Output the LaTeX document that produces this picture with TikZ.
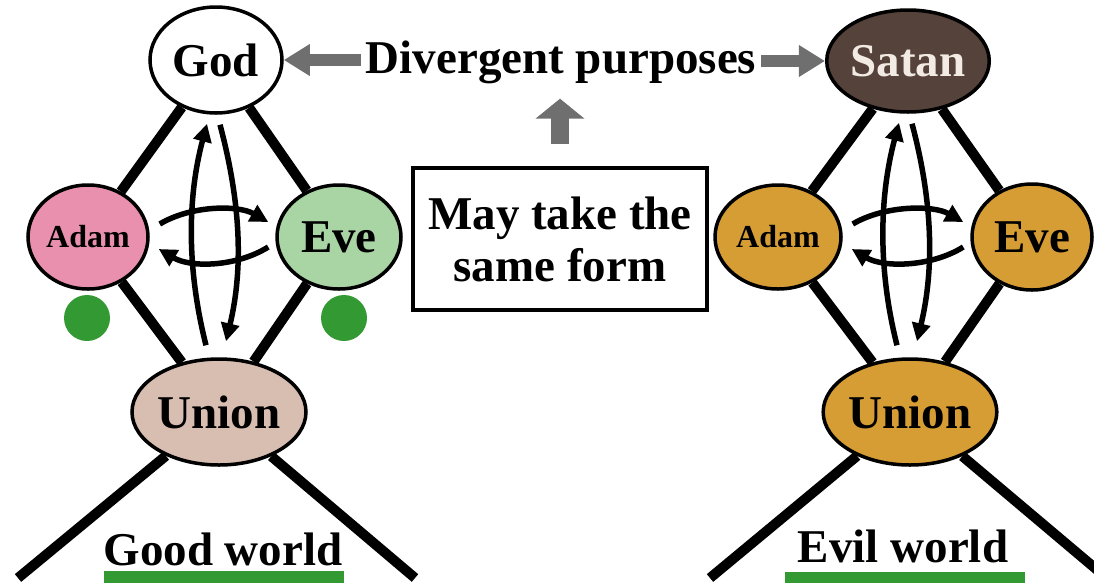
\documentclass[tikz,border=0pt]{standalone}
\usepackage{fontspec}
\setmainfont{Liberation Serif}
\usepackage{xcolor}
\definecolor{adampink}{HTML}{E990AE}
\definecolor{evegreen}{HTML}{A9D4A3}
\definecolor{unionrose}{HTML}{D8BDB1}
\definecolor{satanbrown}{HTML}{55423A}
\definecolor{satantext}{HTML}{F2EBE3}
\definecolor{evilgold}{HTML}{D69D35}
\definecolor{markgreen}{HTML}{339933}
\definecolor{arrowgray}{HTML}{6F6F6F}
\usetikzlibrary{arrows.meta,shapes.geometric,calc}

\begin{document}
\begin{tikzpicture}[x=1pt,y=-1pt,>=Latex]
\tikzset{
 big/.style={font=\fontsize{47}{52}\selectfont\bfseries},
 small/.style={font=\fontsize{32}{36}\selectfont\bfseries},
 ell/.style={ellipse,draw=black,line width=3.5pt,inner sep=0pt,big},
 bar/.style={line width=10pt},
 a/.style={->,line width=5.5pt,>={Triangle[length=18pt,width=18pt]}},
 garrow/.style={arrowgray,line width=12pt,-{Triangle[length=26pt,width=30pt]}},
 gdot/.style={circle,fill=markgreen,minimum size=46pt,inner sep=0pt}
}
\useasboundingbox (0,0) rectangle (1094,587);
% good world
\node[ell,fill=white,minimum width=132pt,minimum height=106pt] (g-top) at (216,60) {God};
\node[ell,fill=adampink,small,minimum width=120pt,minimum height=104pt] (g-adam) at (88,237) {Adam};
\node[ell,fill=evegreen,minimum width=124pt,minimum height=104pt] (g-eve) at (339,237) {Eve};
\node[ell,fill=unionrose,minimum width=174pt,minimum height=106pt] (g-union) at (219,412) {Union};
\node[gdot] (g-dota) at (87,318) {};
\node[gdot] (g-dotb) at (344,318) {};
\coordinate (g-footl) at (18,578);
\coordinate (g-footr) at (415,578);
\node[big,anchor=base] (g-label) at (223,565) {Good world};
\fill[markgreen] (104,571) rectangle (344,583);
% evil world
\node[ell,fill=satanbrown,text=satantext,minimum width=144pt,minimum height=102pt] (e-top) at (908,61) {Satan};
\node[ell,fill=evilgold,small,minimum width=126pt,minimum height=104pt] (e-adam) at (778,237) {Adam};
\node[ell,fill=evilgold,minimum width=120pt,minimum height=106pt] (e-eve) at (1032,237) {Eve};
\node[ell,fill=evilgold,minimum width=172pt,minimum height=106pt] (e-union) at (910,412) {Union};
\coordinate (e-footl) at (710,578);
\coordinate (e-footr) at (1102,574);
\node[big,anchor=base] (e-label) at (903,562) {Evil world};
\fill[markgreen] (785,572) rectangle (1025,583);
% middle
\node[big,inner sep=0pt] (purpose) at (561,62) {Divergent purposes};
\node[draw,line width=3.5pt,minimum width=294pt,minimum height=142pt,align=center,big,inner sep=0pt] (form) at (560,239) {May take the\\same form};
\draw[garrow,shorten <=5pt] (purpose.west |- g-top.east) -- (g-top.east);
\draw[garrow,shorten <=5pt] (purpose.east |- e-top.west) -- (e-top.west);
\draw[garrow,line width=18pt,-{Triangle[length=20pt,width=48pt]},shorten <=22pt,shorten >=15pt] (form.north) -- (form.north |- purpose.south);
\foreach \w in {g,e}{
 \draw[bar] (\w-top) -- (\w-adam);
 \draw[bar] (\w-top) -- (\w-eve);
 \draw[bar] (\w-adam) -- (\w-union);
 \draw[bar] (\w-eve) -- (\w-union);
 \draw[bar] (\w-union) -- (\w-footl);
 \draw[bar] (\w-union) -- (\w-footr);
 \draw[a] ([shift={(10,-13)}]\w-adam.east) .. controls +(32,-19) and +(-30,-17) .. ([shift={(-7,-15)}]\w-eve.west);
 \draw[a] ([shift={(-7,10)}]\w-eve.west) .. controls +(-32,20) and +(32,19) .. ([shift={(9,12)}]\w-adam.east);
 \draw[a] ([shift={(-13,-12)}]\w-union.north) .. controls +(-19,-75) and +(-20,75) .. ([shift={(-9,9)}]\w-top.south);
 \draw[a] ([shift={(4,10)}]\w-top.south) .. controls +(20,75) and +(18,-75) .. ([shift={(7,-16)}]\w-union.north);
}
\end{tikzpicture}
\end{document}
